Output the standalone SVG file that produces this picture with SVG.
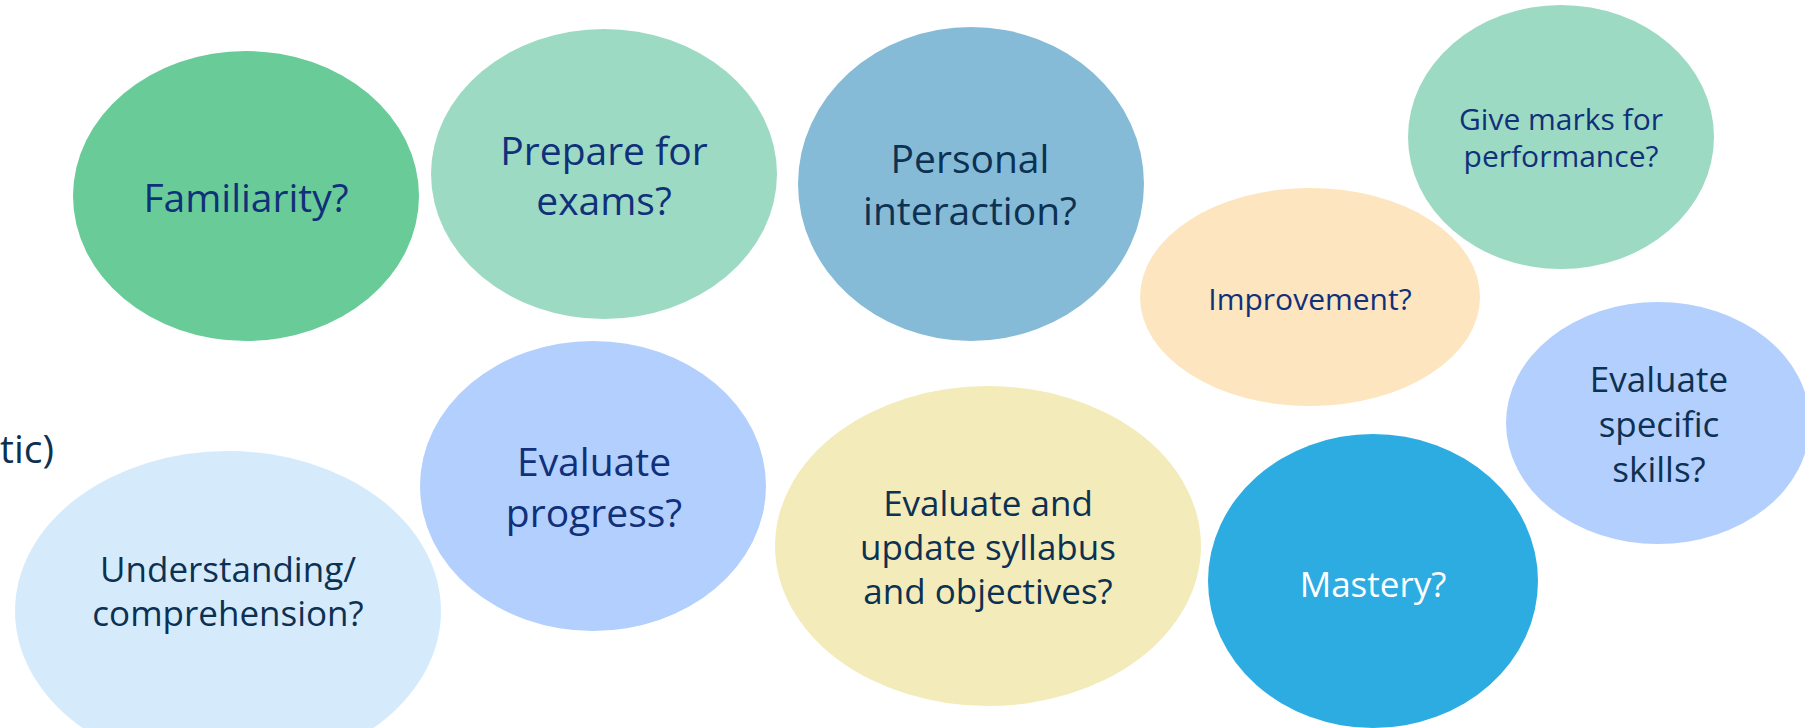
<svg xmlns="http://www.w3.org/2000/svg" width="1805" height="728" viewBox="0 0 1805 728">
  <style>
    text { font-family: "Open Sans", "Noto Sans", "Liberation Sans", sans-serif; text-anchor: middle; }
    .big { font-size: 39px; }
    .mid { font-size: 35px; }
    .small { font-size: 30px; }
    .navy { fill: #10307a; }
    .deep { fill: #0c3152; }
    .light { fill: #ffffff; }
  </style>
  <rect width="1805" height="728" fill="#ffffff"/>

  <!-- trailing fragment of a line running off the left edge -->
  <text class="big deep" x="54" y="463" style="text-anchor:end">tic)</text>

  <g id="familiarity">
    <ellipse cx="246" cy="196" rx="173" ry="145" fill="#69cc98"/>
    <text class="big navy" x="246" y="212">Familiarity?</text>
  </g>

  <g id="prepare-exams">
    <ellipse cx="604" cy="174" rx="173" ry="145" fill="#9ddac4"/>
    <text class="big navy" x="604" y="165">Prepare for</text>
    <text class="big navy" x="604" y="215">exams?</text>
  </g>

  <g id="personal-interaction">
    <ellipse cx="971" cy="184" rx="173" ry="157" fill="#85bbd7"/>
    <text class="big deep" x="970" y="173">Personal</text>
    <text class="big deep" x="970" y="225">interaction?</text>
  </g>

  <g id="give-marks">
    <ellipse cx="1561" cy="137" rx="153" ry="132" fill="#9ddac4"/>
    <text class="small navy" x="1561" y="130">Give marks for</text>
    <text class="small navy" x="1561" y="167">performance?</text>
  </g>

  <g id="improvement">
    <ellipse cx="1310" cy="297" rx="170" ry="109" fill="#fde5c0"/>
    <text class="small navy" x="1310" y="310">Improvement?</text>
  </g>

  <g id="specific-skills">
    <ellipse cx="1658" cy="423" rx="152" ry="121" fill="#b3cffd"/>
    <text class="mid deep" x="1659" y="392">Evaluate</text>
    <text class="mid deep" x="1659" y="437">specific</text>
    <text class="mid deep" x="1659" y="482">skills?</text>
  </g>

  <g id="understanding">
    <ellipse cx="228" cy="611" rx="213" ry="160" fill="#d5ebfc"/>
    <text class="mid deep" x="228" y="582">Understanding/</text>
    <text class="mid deep" x="228" y="626">comprehension?</text>
  </g>

  <g id="evaluate-progress">
    <ellipse cx="593" cy="486" rx="173" ry="145" fill="#b3cffd"/>
    <text class="big navy" x="594" y="476">Evaluate</text>
    <text class="big navy" x="594" y="527">progress?</text>
  </g>

  <g id="syllabus">
    <ellipse cx="988" cy="546" rx="213" ry="160" fill="#f3ecba"/>
    <text class="mid deep" x="988" y="516">Evaluate and</text>
    <text class="mid deep" x="988" y="560">update syllabus</text>
    <text class="mid deep" x="988" y="604">and objectives?</text>
  </g>

  <g id="mastery">
    <ellipse cx="1373" cy="581" rx="165" ry="147" fill="#2dace2"/>
    <text class="mid light" x="1373" y="597">Mastery?</text>
  </g>

  <!-- the bubbles stand alone; no connectors are drawn -->
  <g id="connectors"/>
</svg>
